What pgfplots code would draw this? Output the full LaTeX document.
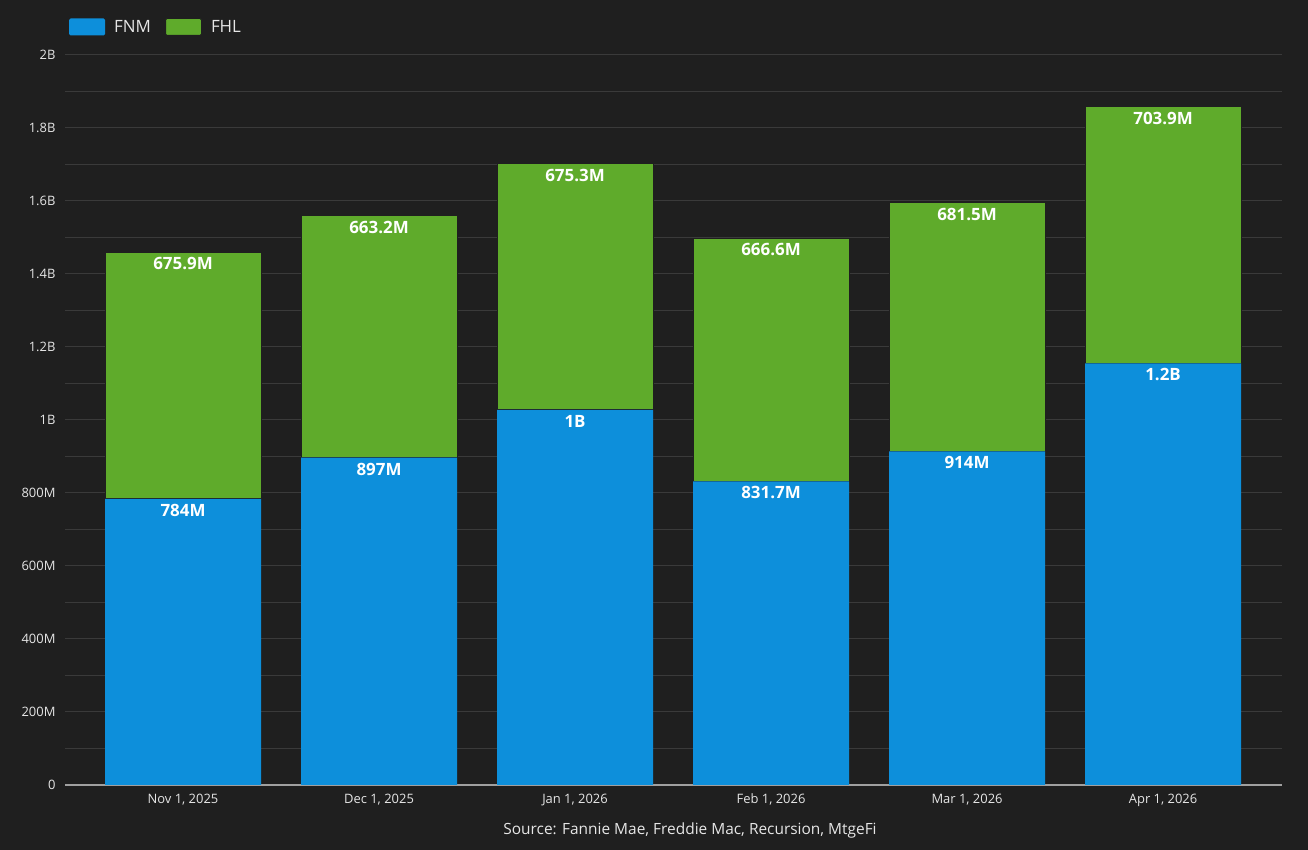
\documentclass[border=0pt]{standalone}
\usepackage{pgfplots}
\usepackage{pgfplotstable}
\pgfplotsset{compat=1.18}
\usepackage{fontspec}
\setmainfont{Open Sans}

\definecolor{bg}{HTML}{1F1F1F}
\definecolor{gridcol}{HTML}{3A3A3A}
\definecolor{axiscol}{HTML}{A0A0A0}
\definecolor{txt}{HTML}{E6E6E6}
\definecolor{fnm}{HTML}{0D8FDB}
\definecolor{fhl}{HTML}{5FAB2B}

% grid under the bars, axis line over them
\pgfplotsset{
  layers/barsbelow/.define layer set={
    axis background,axis grid,main,axis ticks,axis lines,axis tick labels,
    axis descriptions,axis foreground}{},
}

% monthly volume, in millions
\pgfplotstableread{
x fnm fnmlab fhl fhllab
0 784   784M   675.9 675.9M
1 897   897M   663.2 663.2M
2 1028  1B     675.3 675.3M
3 831.7 831.7M 666.6 666.6M
4 914   914M   681.5 681.5M
5 1155  1.2B   703.9 703.9M
}\volumes

\begin{document}
\begin{tikzpicture}
\fill[bg] (0bp,0bp) rectangle (1308bp,850bp);
\begin{axis}[
  set layers=barsbelow,
  at={(65bp,65bp)}, anchor=south west,
  scale only axis, width=1217bp, height=730bp,
  xmin=-0.602, xmax=5.607, ymin=0, ymax=2000,
  ybar stacked, bar width=156bp,
  axis x line*=bottom, axis y line*=left,
  x axis line style={draw=axiscol, line width=1.5bp},
  y axis line style={draw=none},
  tick style={draw=none},
  xtick={0,1,2,3,4,5},
  xticklabels={{Nov 1, 2025},{Dec 1, 2025},{Jan 1, 2026},{Feb 1, 2026},{Mar 1, 2026},{Apr 1, 2026}},
  ytick={0,200,...,2000},
  yticklabels={0,200M,400M,600M,800M,1B,1.2B,1.4B,1.6B,1.8B,2B},
  minor ytick={100,300,...,1900},
  ymajorgrids, yminorgrids,
  major grid style={draw=gridcol, line width=1bp},
  minor grid style={draw=gridcol, line width=1bp},
  ticklabel style={font=\fontsize{13}{15}\selectfont, text=txt},
  yticklabel style={anchor=east, xshift=-6bp},
  xticklabel style={anchor=north, yshift=-5bp, text height=9.5bp, text depth=3bp},
  point meta=explicit symbolic,
  nodes near coords=\pgfplotspointmeta,
  every node near coord/.append style={anchor=north, yshift=-5bp, inner sep=0pt,
    font=\fontsize{17}{20}\bfseries\selectfont, text=white},
  legend columns=2,
  legend style={at={(rel axis cs:0,1)}, anchor=west, xshift=4bp, yshift=28bp,
    draw=none, fill=none, inner sep=0pt,
    font=\fontsize{17}{20}\selectfont, text=txt,
    /tikz/every even column/.append style={column sep=14bp},
    nodes={inner sep=0pt, anchor=west}},
  legend image code/.code={\fill[#1, rounded corners=1.5bp] (0bp,-8.5bp) rectangle (36bp,8.5bp); \path (45bp,0bp);},
]
% labels sit just under the top of each segment
\addplot[fill=fnm, draw=none,
  visualization depends on={\thisrow{fnm} \as \segh},
  every node near coord/.append style={shift={(axis direction cs:0,\segh/2)}}]
  table[x=x, y=fnm, meta=fnmlab] {\volumes};
\addplot[fill=fhl, draw=bg, line width=1bp,
  visualization depends on={\thisrow{fhl} \as \segh},
  every node near coord/.append style={shift={(axis direction cs:0,\segh/2)}}]
  table[x=x, y=fhl, meta=fhllab] {\volumes};
\legend{FNM, FHL}
\end{axis}
\node[font=\fontsize{15.5}{18}\selectfont, text=txt] at (690bp,20bp) {Source: Fannie Mae, Freddie Mac, Recursion, MtgeFi};
\end{tikzpicture}
\end{document}
